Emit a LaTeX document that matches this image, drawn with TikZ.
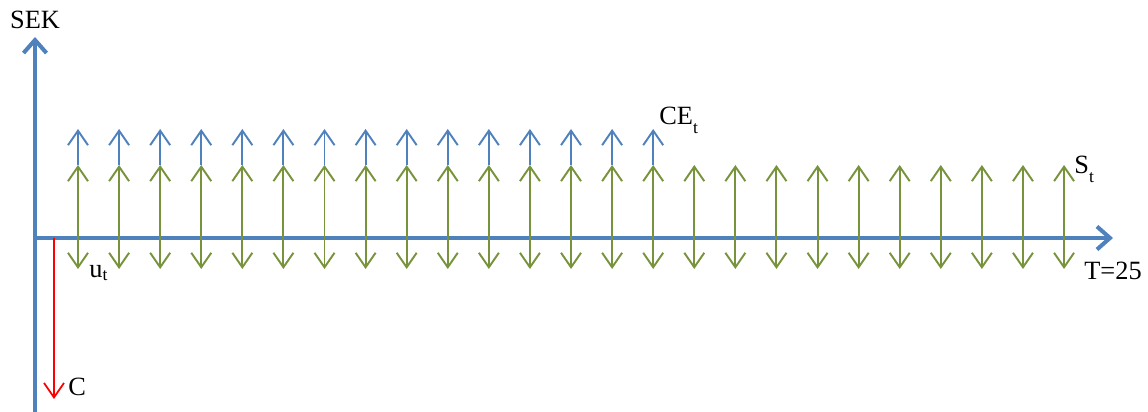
\documentclass[tikz,border=0pt]{standalone}
\usepackage{fontspec}
\setmainfont{Liberation Serif}
\usepackage{tikz}
\usetikzlibrary{arrows.meta,positioning,calc}
\definecolor{axisblue}{RGB}{79,129,189}
\definecolor{flowgreen}{RGB}{119,147,60}
\newcommand{\lowsub}[2][-5pt]{\raisebox{#1}{\fontsize{10}{12}\selectfont #2}}

\begin{document}
\begin{tikzpicture}[
  axis/.style={axisblue, line width=2.3pt, -{Straight Barb[length=0.26cm, width=0.46cm, line width=2.3pt]}},
  flow/.style={flowgreen, line width=1.1pt, {Straight Barb[length=0.29cm, width=0.40cm]}-{Straight Barb[length=0.29cm, width=0.40cm]}},
  emis/.style={axisblue, line width=1.1pt, -{Straight Barb[length=0.29cm, width=0.40cm]}},
  cost/.style={red, line width=1pt, -{Straight Barb[length=0.29cm, width=0.40cm]}},
  lbl/.style={font=\fontsize{15}{17}\selectfont, inner sep=0pt},
]
\useasboundingbox (0,0) rectangle (22.96,8.24);
% Axes
\coordinate (O) at (0.70,3.48);
\coordinate (ybot) at (0.70,0);
\coordinate (ytop) at (0.70,7.50);
\coordinate (xend) at (22.26,3.48);
\draw[axisblue, line width=2.3pt] (ybot) -- (O);
\draw[axis] (O) -- (ytop);
\draw[axis] (O) -- (xend);
% Cost arrow
\coordinate (c0) at (1.08,3.48);
\coordinate (c1) at (1.08,0.26);
\draw[cost] (c0) -- (c1);
% Yearly flows
\foreach \i in {1,...,25}{
  \pgfmathsetmacro{\xx}{1.56+(\i-1)*0.8217}
  \coordinate (lo\i) at (\xx,2.86);
  \coordinate (hi\i) at (\xx,4.94);
  \draw[flow] (lo\i) -- (hi\i);
}
% Emission credits
\foreach \i in {1,...,15}{
  \coordinate (ce\i) at ($(hi\i)+(0,0.72)$);
  \draw[emis] (hi\i) -- (ce\i);
}
% Labels
\node[lbl] (sek) at (0.70,7.84) {SEK};
\node[lbl, anchor=west] (cet) at (13.18,5.84) {CE\lowsub{t}};
\node[lbl, anchor=west] (st) at (21.48,4.86) {S\lowsub{t}};
\node[lbl] (tend) at (22.26,2.82) {T=25};
\node[lbl, anchor=west] (ut) at (1.78,2.78) {u\lowsub[-2pt]{t}};
\node[lbl, anchor=west] (cc) at (1.36,0.50) {C};
\end{tikzpicture}
\end{document}
